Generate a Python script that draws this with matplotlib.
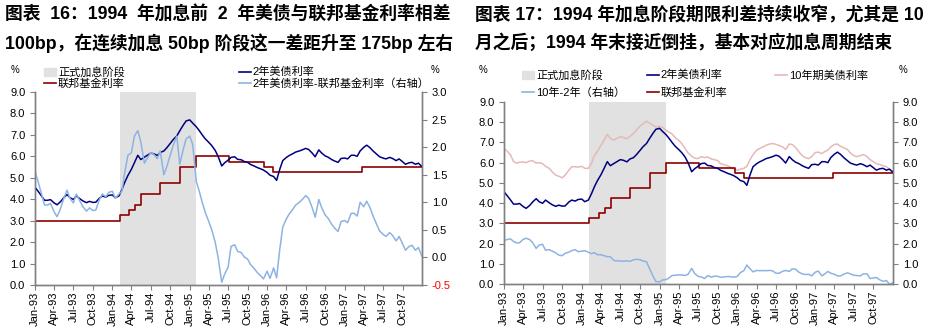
import numpy as np
import pandas as pd
import matplotlib
matplotlib.use("Agg")
import matplotlib.pyplot as plt
from matplotlib.lines import Line2D
from matplotlib.patches import Patch

plt.rcParams['font.family'] = ['Liberation Sans', 'Noto Sans CJK SC']

# --- DATA (points au 1er et au 15 de chaque mois) ---
dates = pd.date_range('1993-01-01', periods=121, freq='SMS')

y2 = [4.56, 4.38, 4.15, 3.95, 3.95, 3.98, 3.83, 3.74, 3.88, 4.05,
      4.22, 4.07, 3.99, 4.15, 4.02, 3.92, 3.84, 3.90, 3.85, 3.86,
      4.05, 4.15, 4.10, 4.18, 4.20, 4.07, 4.15, 4.45, 4.80, 5.10,
      5.40, 5.70, 6.05, 5.85, 5.96, 6.05, 6.15, 6.12, 6.04, 6.18,
      6.25, 6.40, 6.60, 6.78, 6.95, 7.19, 7.45, 7.65, 7.70, 7.55,
      7.38, 7.20, 7.00, 6.82, 6.65, 6.50, 6.28, 6.00, 5.55, 5.70,
      5.82, 5.95, 5.98, 5.86, 5.84, 5.76, 5.72, 5.62, 5.55, 5.48,
      5.42, 5.36, 5.25, 5.12, 5.06, 4.88, 5.40, 5.80, 5.95, 6.04,
      6.12, 6.20, 6.25, 6.30, 6.37, 6.32, 6.15, 5.98, 6.30, 6.15,
      6.02, 5.96, 5.85, 5.78, 5.72, 5.90, 5.92, 5.88, 6.05, 6.05,
      6.00, 6.25, 6.42, 6.52, 6.40, 6.25, 6.10, 5.98, 5.92, 5.88,
      5.95, 5.90, 5.80, 5.88, 5.75, 5.63, 5.70, 5.72, 5.63, 5.68,
      5.52]

y10 = [6.70, 6.58, 6.38, 6.05, 5.98, 6.02, 6.04, 6.00, 6.08, 6.10,
       5.98, 6.00, 5.95, 5.82, 5.72, 5.55, 5.38, 5.33, 5.25, 5.38,
       5.62, 5.80, 5.80, 5.78, 5.82, 5.72, 5.72, 5.95, 6.35, 6.55,
       6.85, 7.10, 7.40, 7.20, 7.12, 7.20, 7.28, 7.25, 7.18, 7.30,
       7.45, 7.62, 7.80, 7.92, 8.05, 7.96, 7.85, 7.77, 7.80, 7.75,
       7.60, 7.50, 7.42, 7.25, 7.10, 6.95, 6.70, 6.48, 6.32, 6.22,
       6.20, 6.30, 6.25, 6.28, 6.18, 6.15, 6.10, 5.95, 5.90, 5.85,
       5.78, 5.70, 5.62, 5.68, 5.72, 5.82, 6.15, 6.40, 6.62, 6.70,
       6.78, 6.86, 6.92, 6.95, 6.90, 6.85, 6.78, 6.65, 6.92, 6.90,
       6.75, 6.55, 6.35, 6.25, 6.20, 6.30, 6.50, 6.52, 6.45, 6.55,
       6.62, 6.78, 6.90, 6.92, 6.80, 6.74, 6.65, 6.48, 6.35, 6.30,
       6.35, 6.40, 6.30, 6.15, 6.05, 5.95, 5.90, 5.85, 5.80, 5.68,
       5.58]

# taux cible des fed funds (dates de changement)
ff_dates = ['1993-01-01', '1994-02-04', '1994-03-22', '1994-04-18', '1994-05-17',
            '1994-08-16', '1994-11-15', '1995-02-01', '1995-07-06', '1995-12-19',
            '1996-01-31', '1997-03-25', '1998-01-01']
ff_vals = [3.00, 3.25, 3.50, 3.75, 4.25, 4.75, 5.50, 6.00, 5.75, 5.50, 5.25, 5.50, 5.50]

hike_start, hike_end = '1994-02-04', '1995-02-01'

tick_dates = pd.date_range('1993-01-01', '1997-10-01', freq='QS')

# --- COULEURS ---
C_2Y = '#000080'
C_FF = '#8b0000'
C_SPREAD = '#8db3e2'
C_10Y = '#e6b9b8'
C_SHADE = '#e1e1e1'
C_AXIS = '#808080'

ff = pd.Series(ff_vals, index=pd.to_datetime(ff_dates))
ff_grid = ff.reindex(dates, method='ffill').values
y2 = np.array(y2)
y10 = np.array(y10)
spread_ff = y2 - ff_grid
spread_curve = y10 - y2

fig = plt.figure(figsize=(9.39, 3.36), dpi=100)
W, H = 939, 336
TITLE_FS = 12.8


def box(x0, y0, x1, y1):
    return [x0 / W, 1 - y1 / H, (x1 - x0) / W, (y1 - y0) / H]


def style(ax, axr):
    for a in (ax, axr):
        a.spines['top'].set_visible(False)
        for s in ('left', 'right', 'bottom'):
            a.spines[s].set_color(C_AXIS)
            a.spines[s].set_linewidth(1.0)
        a.tick_params(colors=C_AXIS, labelcolor='black', labelsize=8, length=3.5, width=0.8)
    ax.tick_params(axis='x', pad=1.5)
    ax.set_xlim(pd.Timestamp('1993-01-01'), pd.Timestamp('1998-01-01'))
    ax.set_xticks(tick_dates)
    ax.set_xticklabels([d.strftime('%b-%y') for d in tick_dates], rotation=90)
    ax.set_ylim(0, 9)
    ax.set_yticks(np.arange(0, 9.1, 1))
    ax.set_yticklabels([f'{v:.1f}' for v in np.arange(0, 9.1, 1)])
    ax.axvspan(pd.Timestamp(hike_start), pd.Timestamp(hike_end), color=C_SHADE, lw=0, zorder=0)


def legend(handles, labels, x, y, spacing):
    fig.legend(handles, labels, loc='upper left', bbox_to_anchor=(x / W, 1 - y / H),
               frameon=False, fontsize=8, handlelength=1.1, handleheight=0.7,
               handletextpad=0.15, labelspacing=spacing, borderaxespad=0, borderpad=0)


# ---------- graphique de gauche ----------
ax1 = fig.add_axes(box(35, 92, 422, 285))
ax1r = ax1.twinx()
style(ax1, ax1r)
ax1.plot(dates, y2, color=C_2Y, lw=1.1, zorder=3)
ax1.step(ff.index, ff.values, where='post', color=C_FF, lw=1.2, zorder=2)
ax1r.plot(dates, spread_ff, color=C_SPREAD, lw=1.1)
ax1r.set_ylim(-0.5, 3.0)
rt = np.arange(-0.5, 3.01, 0.5)
ax1r.set_yticks(rt)
ax1r.set_yticklabels([f'{v:.1f}' for v in rt])
ax1r.get_yticklabels()[0].set_color('red')

fig.text(15 / W, 1 - 70 / H, '%', fontsize=7, ha='center', va='center')
fig.text(435 / W, 1 - 70 / H, '%', fontsize=7, ha='center', va='center')

legend([Patch(color=C_SHADE), Line2D([], [], color=C_FF, lw=1.2)],
       ['正式加息阶段', '联邦基金利率'], 44, 67, 0.05)
legend([Line2D([], [], color=C_2Y, lw=1.2), Line2D([], [], color=C_SPREAD, lw=1.2)],
       ['2年美债利率', '2年美债利率-联邦基金利率（右轴）'], 239, 67, 0.05)

fig.text(5 / W, 1 - 15 / H, '图表  16：1994  年加息前  2  年美债与联邦基金利率相差',
         fontsize=TITLE_FS, fontweight='bold', va='center')
fig.text(5 / W, 1 - 43 / H, '100bp，在连续加息 50bp 阶段这一差距升至 175bp 左右',
         fontsize=TITLE_FS, fontweight='bold', va='center')

# ---------- graphique de droite ----------
ax2 = fig.add_axes(box(504, 102, 893, 284))
ax2r = ax2.twinx()
style(ax2, ax2r)
ax2.plot(dates, y10, color=C_10Y, lw=1.1, zorder=2)
ax2.plot(dates, y2, color=C_2Y, lw=1.1, zorder=3)
ax2.step(ff.index, ff.values, where='post', color=C_FF, lw=1.2, zorder=2)
ax2r.plot(dates, spread_curve, color=C_SPREAD, lw=1.1)
ax2r.set_ylim(0, 9)
ax2r.set_yticks(np.arange(0, 9.1, 1))
ax2r.set_yticklabels([f'{v:.1f}' for v in np.arange(0, 9.1, 1)])

fig.text(483 / W, 1 - 70 / H, '%', fontsize=7, ha='center', va='center')
fig.text(903 / W, 1 - 70 / H, '%', fontsize=7, ha='center', va='center')

legend([Patch(color=C_SHADE), Line2D([], [], color=C_SPREAD, lw=1.2)],
       ['正式加息阶段', '10年-2年（右轴）'], 522, 70, 0.6)
legend([Line2D([], [], color=C_2Y, lw=1.2), Line2D([], [], color=C_FF, lw=1.2)],
       ['2年美债利率', '联邦基金利率'], 647, 70, 0.6)
legend([Line2D([], [], color=C_10Y, lw=1.2)], ['10年期美债利率'], 775, 70, 0.6)

fig.text(475 / W, 1 - 15 / H, '图表 17：1994 年加息阶段期限利差持续收窄，尤其是 10',
         fontsize=TITLE_FS, fontweight='bold', va='center')
fig.text(475 / W, 1 - 43 / H, '月之后；1994 年末接近倒挂，基本对应加息周期结束',
         fontsize=TITLE_FS, fontweight='bold', va='center')

fig.savefig('out.png', dpi=100)
